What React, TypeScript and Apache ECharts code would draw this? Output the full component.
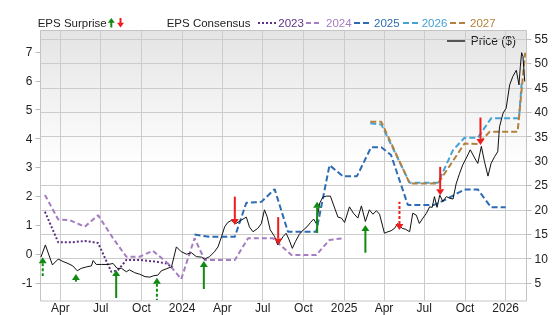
import React, { useEffect, useRef } from 'react';
import * as echarts from 'echarts';

const priceDates = [
  '2023-02-16','2023-02-26','2023-03-14','2023-03-27','2023-04-07','2023-04-18','2023-04-29','2023-05-09','2023-05-18','2023-05-30',
  '2023-06-10','2023-06-14','2023-06-21','2023-07-03','2023-07-18','2023-07-29','2023-08-07','2023-08-17','2023-08-28','2023-09-04',
  '2023-09-16','2023-09-27','2023-10-09','2023-10-20','2023-10-29','2023-11-07','2023-11-15','2023-11-26','2023-12-08','2023-12-19',
  '2023-12-30','2024-01-11','2024-01-22','2024-02-02','2024-02-14','2024-02-21','2024-03-03','2024-03-14','2024-03-22','2024-03-30',
  '2024-04-06','2024-04-13','2024-04-21','2024-05-02','2024-05-14','2024-05-25','2024-06-01','2024-06-09','2024-06-20','2024-06-28',
  '2024-07-05','2024-07-11','2024-07-18','2024-07-28','2024-08-04','2024-08-16','2024-08-23','2024-08-29','2024-09-06','2024-09-13',
  '2024-09-22','2024-10-01','2024-10-09','2024-10-17','2024-10-24','2024-10-30','2024-11-07','2024-11-14','2024-11-22','2024-12-01',
  '2024-12-08','2024-12-18','2024-12-26','2025-01-02','2025-01-13','2025-01-22','2025-02-01','2025-02-09','2025-02-18','2025-02-27',
  '2025-03-07','2025-03-15','2025-03-22','2025-04-02','2025-04-10','2025-04-17','2025-04-25','2025-05-02','2025-05-12','2025-05-20',
  '2025-05-29','2025-06-05','2025-06-13','2025-06-20','2025-06-28','2025-07-06','2025-07-13','2025-07-19','2025-07-24','2025-07-30',
  '2025-08-05','2025-08-12','2025-08-20','2025-08-27','2025-09-04','2025-09-11','2025-09-19','2025-09-26','2025-10-04','2025-10-13',
  '2025-10-23','2025-10-30','2025-11-07','2025-11-14','2025-11-22','2025-11-29','2025-12-07','2025-12-14','2025-12-18','2025-12-26',
  '2026-01-02','2026-01-10','2026-01-17','2026-01-25','2026-01-31','2026-02-03','2026-02-06','2026-02-09','2026-02-13'
];
const priceValues = [
  10.3,12.8,8.7,9.9,9.4,9.0,8.5,7.5,8.0,8.3,
  8.5,9.6,8.8,8.8,8.8,9.0,8.0,8.0,7.3,7.7,
  7.1,6.8,6.3,6.2,6.5,6.6,7.5,7.9,8.3,12.4,
  11.4,10.9,11.2,10.4,10.3,9.9,10.4,11.4,12.4,14.5,
  16.5,17.4,17.8,17.2,17.9,18.5,16.5,15.5,16.2,17.2,
  20.0,18.6,15.9,14.5,12.8,14.5,15.2,14.0,12.1,13.5,
  15.0,15.9,16.5,17.4,18.1,17.2,21.4,22.6,22.8,22.8,
  21.0,18.5,18.3,17.4,20.6,19.3,18.3,20.8,17.6,20.0,
  19.1,19.8,19.1,15.2,15.5,15.7,16.2,17.2,16.2,16.0,
  15.5,19.3,18.9,17.2,18.3,19.3,20.6,20.5,22.7,20.5,
  23.0,21.7,22.7,22.4,22.2,25.3,27.5,29.2,30.6,32.3,
  30.6,29.5,33.0,29.9,26.9,29.5,30.9,31.9,37.0,39.8,
  40.8,45.6,47.3,48.6,45.6,49.3,52.2,51.4,46.3
];

const c2023Dates = ['2023-02-25','2023-03-27','2023-04-29','2023-05-26','2023-06-25','2023-07-25','2023-08-09','2023-08-28','2023-09-27','2023-11-03','2023-11-26','2023-12-11'];
const c2023Values = [1.47,0.41,0.41,0.46,0.39,-0.61,-0.55,-0.2,-0.2,-0.26,-0.32,-0.46];

const c2024Dates = ['2023-02-25','2023-03-27','2023-04-22','2023-05-26','2023-06-25','2023-07-29','2023-08-28','2023-09-27','2023-10-27','2023-12-04','2023-12-30','2024-01-29','2024-02-21','2024-04-29','2024-05-29','2024-07-24','2024-09-04','2024-10-30','2024-11-29','2024-12-29'];
const c2024Values = [2.05,1.2,1.18,0.95,1.35,0.55,-0.09,-0.09,0.12,-0.38,-0.86,0.55,-0.2,-0.2,0.55,0.55,-0.03,-0.03,0.49,0.55];

const c2025Dates = ['2024-01-29','2024-03-03','2024-04-29','2024-05-25','2024-06-28','2024-07-28','2024-08-27','2024-10-30','2024-11-29','2024-12-29','2025-01-30','2025-03-03','2025-03-26','2025-04-17','2025-05-25','2025-07-22','2025-08-20','2025-09-30','2025-10-30','2025-11-29','2026-01-01'];
const c2025Values = [0.68,0.6,0.6,1.78,1.81,2.25,0.78,0.78,3.08,2.7,2.7,3.7,3.7,3.43,1.7,1.7,1.9,2.24,2.24,1.62,1.62];

const c2026Dates = ['2025-03-01','2025-03-26','2025-05-29','2025-08-01','2025-09-04','2025-09-30','2025-10-30','2025-11-29','2026-01-31','2026-02-06'];
const c2026Values = [4.53,4.49,2.47,2.47,3.6,4.03,4.03,4.7,4.7,5.9];

const c2027Dates = ['2025-03-01','2025-03-26','2025-05-29','2025-08-01','2025-09-30','2025-10-30','2025-11-26','2026-01-28','2026-02-14'];
const c2027Values = [4.58,4.58,2.45,2.45,3.83,3.81,4.24,4.24,6.97];

// EPS surprise arrows: date, price at arrow head, price at arrow tail, reported (solid) or not (dashed)
const surpriseDates = ['2023-02-20','2023-05-06','2023-08-05','2023-11-05','2024-02-19','2024-04-29','2024-08-05','2024-11-01','2025-02-18','2025-05-06','2025-08-06','2025-11-05'];
const surpriseHeads = [10.27,6.84,7.66,6.09,9.5,16.9,12.9,21.66,16.9,15.86,23.0,33.3];
const surpriseTails = [6.43,5.27,1.93,1.52,3.77,22.7,18.5,15.25,11.2,21.66,28.8,38.9];
const surpriseSolid = [false,true,true,false,true,true,true,true,true,false,true,true];

const leftTicks = [-1,0,1,2,3,4,5,6,7];
const rightTicks = [5,10,15,20,25,30,35,40,45,50,55];
const xTicks = ['2023-04-01','2023-07-01','2023-10-01','2024-01-01','2024-04-01','2024-07-01','2024-10-01','2025-01-01','2025-04-01','2025-07-01','2025-10-01','2026-01-01'];
const xMin = '2023-02-15';
const xMax = '2026-02-17';
const monthNames = ['Jan','Feb','Mar','Apr','May','Jun','Jul','Aug','Sep','Oct','Nov','Dec'];

const FONT = '"Liberation Sans", Arial, Helvetica, sans-serif';
const GREEN = '#118a11';
const RED = '#ee1c1c';
const COL2023 = '#5e3185';
const COL2024 = '#a57dc2';
const COL2025 = '#2d6bb3';
const COL2026 = '#45a2d7';
const COL2027 = '#b3813b';

const ts = (s: string) => new Date(s + 'T00:00:00').getTime();
function pairs(d: string[], v: number[]) {
  return d.map((x, i) => [ts(x), v[i]]);
}

export default function App() {
  const ref = useRef<HTMLDivElement>(null);
  useEffect(() => {
    if (!ref.current) return;
    const chart = echarts.init(ref.current, undefined, { renderer: 'svg' });
    const legendY = 23;
    const lf = `11.5px ${FONT}`;
    const legendItems = [
      { x1: 258, x2: 276, tx: 278.3, label: '2023', color: COL2023, dash: [2, 2] },
      { x1: 306, x2: 322, tx: 326, label: '2024', color: COL2024, dash: [5, 3] },
      { x1: 354, x2: 370, tx: 374, label: '2025', color: COL2025, dash: [6, 3] },
      { x1: 403, x2: 419, tx: 421.7, label: '2026', color: COL2026, dash: [6, 3] },
      { x1: 450, x2: 468, tx: 470, label: '2027', color: COL2027, dash: [6, 3] },
    ];
    const graphic: any[] = [
      { type: 'text', x: 37.7, y: legendY, style: { text: 'EPS Surprise', fill: '#222', font: lf, verticalAlign: 'middle' } },
      { type: 'line', shape: { x1: 111.3, y1: 27.5, x2: 111.3, y2: 22 }, style: { stroke: GREEN, lineWidth: 2 } },
      { type: 'polygon', shape: { points: [[111.3, 18], [107.8, 22.8], [114.8, 22.8]] }, style: { fill: GREEN } },
      { type: 'line', shape: { x1: 120.5, y1: 18, x2: 120.5, y2: 23.5 }, style: { stroke: RED, lineWidth: 2 } },
      { type: 'polygon', shape: { points: [[120.5, 27.5], [117, 22.7], [124, 22.7]] }, style: { fill: RED } },
      { type: 'text', x: 166.7, y: legendY, style: { text: 'EPS Consensus', fill: '#222', font: lf, verticalAlign: 'middle' } },
      { type: 'line', shape: { x1: 447, y1: 41, x2: 465, y2: 41 }, style: { stroke: '#555', lineWidth: 2 } },
      { type: 'text', x: 470.7, y: 41, style: { text: 'Price ($)', fill: '#222', font: `12px ${FONT}`, verticalAlign: 'middle' } },
    ];
    legendItems.forEach((it) => {
      graphic.push({ type: 'line', shape: { x1: it.x1, y1: legendY, x2: it.x2, y2: legendY }, style: { stroke: it.color, lineWidth: 2, lineDash: it.dash } });
      graphic.push({ type: 'text', x: it.tx, y: legendY, style: { text: it.label, fill: it.color, font: lf, verticalAlign: 'middle' } });
    });

    const consensus = (data: any[], color: string, dash: number[]) => ({
      type: 'line',
      yAxisIndex: 0,
      data,
      symbol: 'none',
      lineStyle: { color, width: 2, type: dash },
      z: 3,
    });

    const xTickNums = xTicks.map(ts);

    const option: any = {
      animation: false,
      textStyle: { fontFamily: FONT },
      grid: {
        left: 40.5, right: 29.5, top: 30.5, bottom: 14,
        show: true, borderColor: '#c4c4c4', borderWidth: 1,
        backgroundColor: new echarts.graphic.LinearGradient(0, 0, 0, 1, [
          { offset: 0, color: '#e4e4e4' },
          { offset: 0.5, color: '#ffffff' },
          { offset: 1, color: '#ffffff' },
        ]),
      },
      xAxis: {
        type: 'value',
        min: ts(xMin),
        max: ts(xMax),
        axisLine: { show: false },
        axisTick: { show: false, customValues: xTickNums },
        axisLabel: {
          customValues: xTickNums,
          color: '#222', fontSize: 12, fontFamily: FONT, margin: 1,
          formatter: (val: number) => {
            const d = new Date(val);
            return d.getMonth() === 0 ? String(d.getFullYear()) : monthNames[d.getMonth()];
          },
        },
        splitLine: { show: true, lineStyle: { color: '#cccccc', width: 1 } },
      },
      yAxis: [
        {
          type: 'value', position: 'left', min: -1.62, max: 7.74,
          axisLine: { show: false },
          axisTick: { show: true, length: 5, customValues: leftTicks, lineStyle: { color: '#bbbbbb' } },
          axisLabel: { customValues: leftTicks, color: '#222', fontSize: 12, fontFamily: FONT, margin: 8 },
          splitLine: { show: false },
        },
        {
          type: 'value', position: 'right', min: 1.31, max: 56.74,
          axisLine: { show: false },
          axisTick: { show: true, length: 5, customValues: rightTicks, lineStyle: { color: '#bbbbbb' } },
          axisLabel: { customValues: rightTicks, color: '#222', fontSize: 12, fontFamily: FONT, margin: 8 },
          splitLine: { show: true, lineStyle: { color: '#cccccc', width: 1 } },
        },
      ],
      graphic,
      series: [
        consensus(pairs(c2023Dates, c2023Values), COL2023, [2, 2]),
        consensus(pairs(c2024Dates, c2024Values), COL2024, [5, 3]),
        consensus(pairs(c2025Dates, c2025Values), COL2025, [6, 3]),
        consensus(pairs(c2026Dates, c2026Values), COL2026, [6, 3]),
        consensus(pairs(c2027Dates, c2027Values), COL2027, [6, 3]),
        {
          type: 'line', yAxisIndex: 1, data: pairs(priceDates, priceValues), symbol: 'none',
          lineStyle: { color: '#111', width: 1 }, z: 4,
        },
        {
          type: 'custom', yAxisIndex: 1, z: 5,
          data: surpriseDates.map((d, i) => [ts(d), surpriseHeads[i], surpriseTails[i], surpriseSolid[i] ? 1 : 0]),
          renderItem: (params: any, api: any) => {
            const t = api.value(0);
            const head = api.coord([t, api.value(1)]);
            const tail = api.coord([t, api.value(2)]);
            const solid = api.value(3) === 1;
            const up = head[1] < tail[1];
            const color = up ? GREEN : RED;
            const hl = 6, hw = 4;
            const baseY = up ? head[1] + hl : head[1] - hl;
            return {
              type: 'group',
              children: [
                { type: 'line', shape: { x1: head[0], y1: baseY, x2: tail[0], y2: tail[1] }, style: { stroke: color, lineWidth: 2, lineDash: solid ? null : [3, 2] } },
                { type: 'polygon', shape: { points: [[head[0], head[1]], [head[0] - hw, baseY], [head[0] + hw, baseY]] }, style: { fill: color } },
              ],
            };
          },
        },
      ],
    };
    chart.setOption(option);
    return () => chart.dispose();
  }, []);
  return <div ref={ref} style={{ position: 'fixed', left: 0, top: 0, width: 556, height: 315 }} />;
}
